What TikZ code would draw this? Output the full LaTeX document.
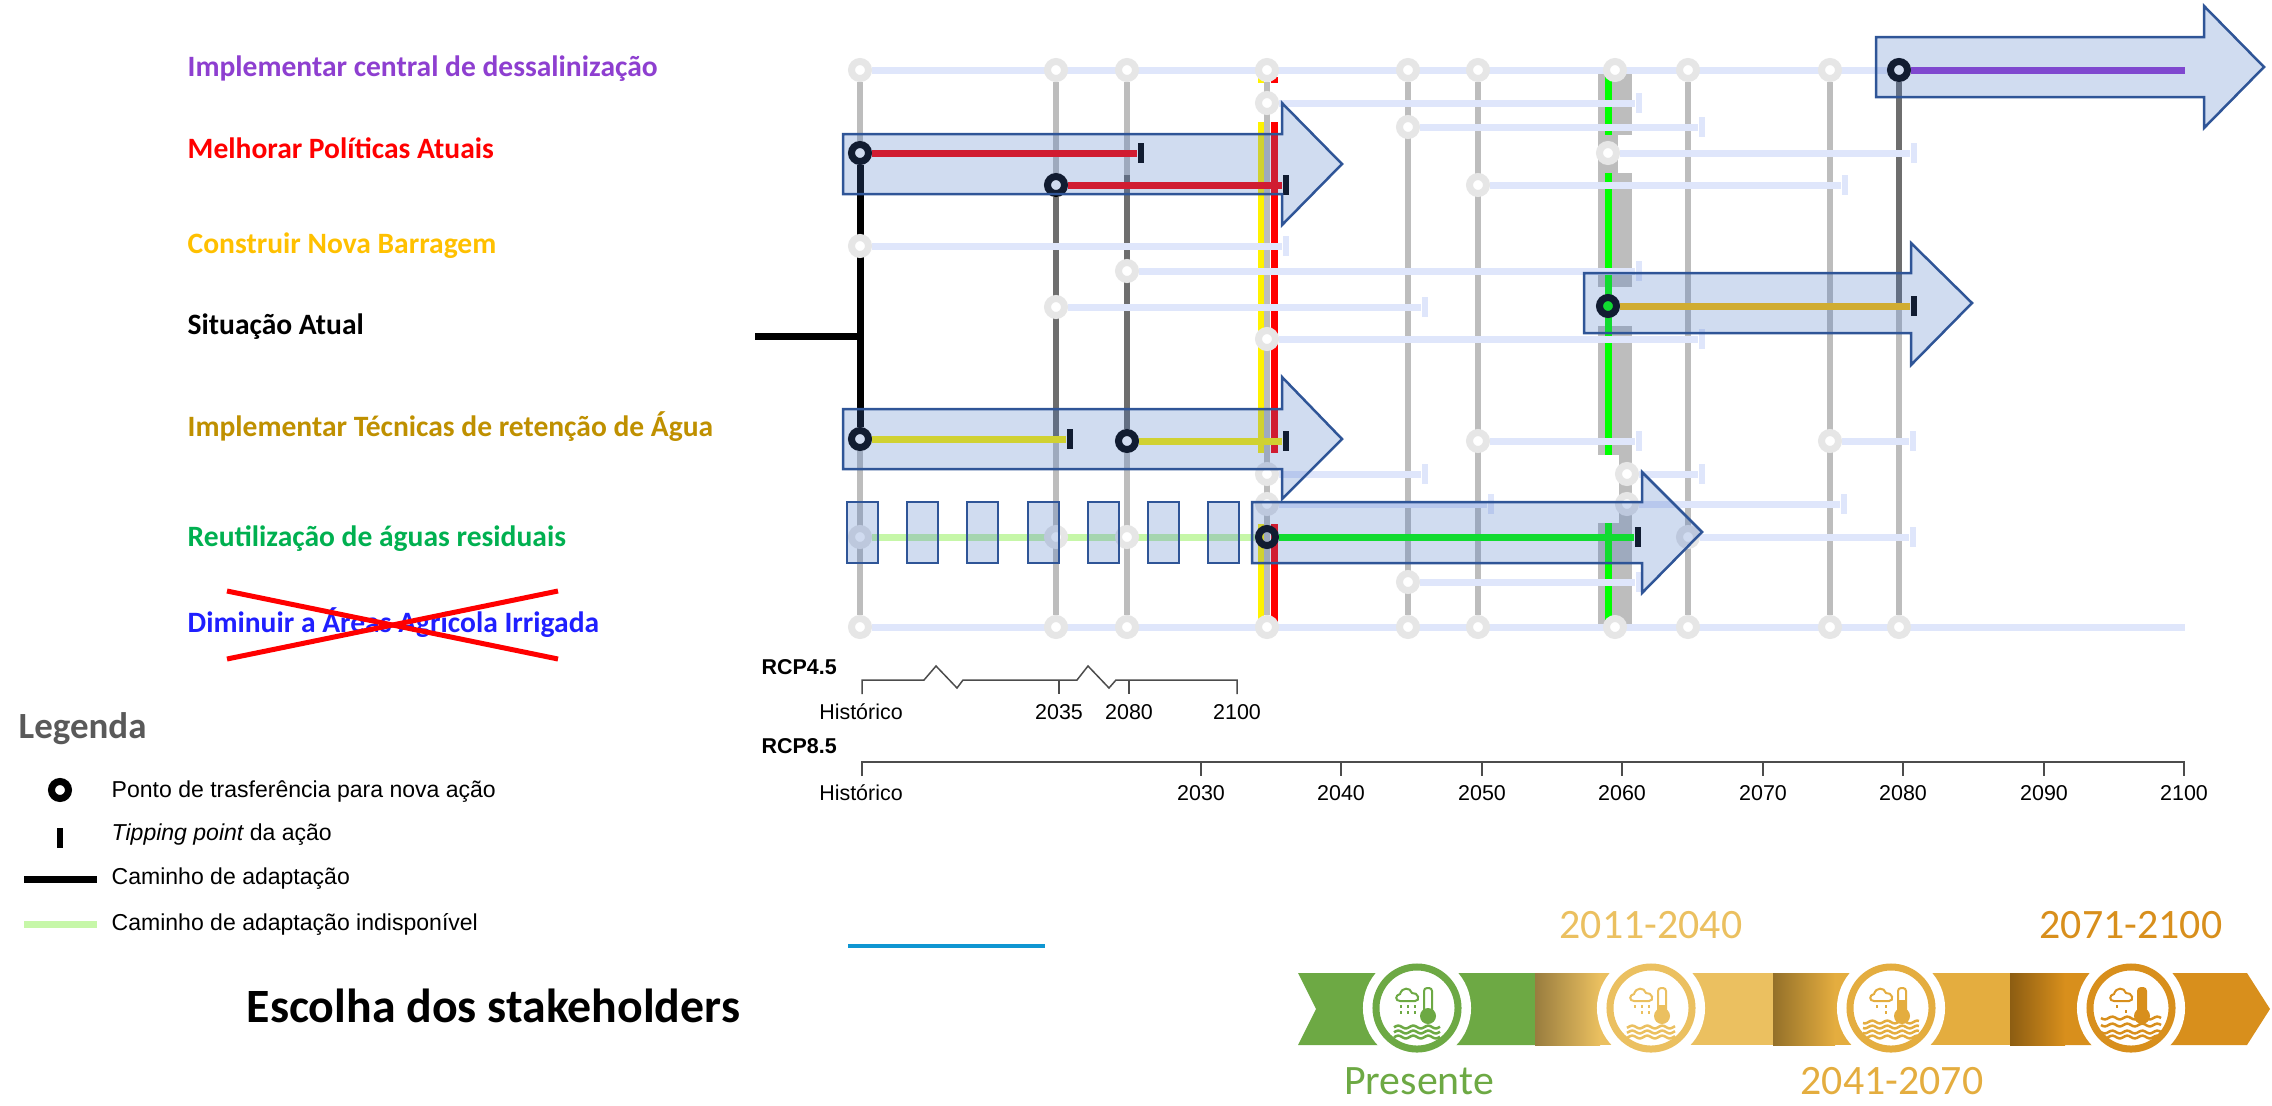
\documentclass[tikz,border=0pt]{standalone}
\usepackage{xcolor}
\usepackage{fontspec}
\setmainfont{Liberation Sans}
\newfontfamily\labelfont{Carlito}
\usetikzlibrary{backgrounds}

\definecolor{offgray}{HTML}{E6E6E6}
\definecolor{offblue}{HTML}{DFE6FB}
\definecolor{linegray}{HTML}{BDBDBD}
\definecolor{darkgray}{HTML}{6E6E6E}
\definecolor{boxblue}{HTML}{2F5597}
\definecolor{fillblue}{HTML}{4472C4}
\definecolor{unavail}{HTML}{C6F7A8}
\definecolor{ribgreen}{HTML}{6DA944}
\definecolor{ribone}{HTML}{EBC060}
\definecolor{ribtwo}{HTML}{E4AD3F}
\definecolor{ribthree}{HTML}{D88F1C}
\definecolor{actpurple}{HTML}{8E3FD0}
\definecolor{linepurple}{HTML}{943AD4}
\definecolor{actamber}{HTML}{FFC000}
\definecolor{actgold}{HTML}{BF9000}
\definecolor{actgreen}{HTML}{00B050}
\definecolor{actblue}{HTML}{1F1FFF}
\definecolor{legendgray}{HTML}{595959}
\definecolor{bluestroke}{HTML}{0F96D2}

\tikzset{
    pics/climateicon/.style n args={5}{code={
        \draw[#1, line width=0.02cm] (-17,-7) .. controls (-22,-7) and (-22,-13) .. (-17,-14)
            .. controls (-15,-21) and (-7,-21) .. (-5,-15)
            .. controls (1,-16) and (4,-7) .. (-2,-7) -- cycle;
        \foreach \rx/\ry in {#4} {
            \draw[#1, line width=0.02cm] (\rx,\ry) -- (\rx,\ry+2.5);
        }
        \draw[#1, line width=0.02cm, fill=white, rounded corners=0.03cm] (7,-20) rectangle (15,6);
        \fill[#1] (7,#5) rectangle (15,8);
        \fill[#1] (11,8) circle (0.08cm);
        \foreach \wy in {#2} {
            \draw[#1, line width=0.025cm] plot[smooth, domain=-#3:#3, samples=31, variable=\t] (\t,{\wy+1.4*sin(\t*24)});
        }
    }}
}

\begin{document}
\begin{tikzpicture}[
    x=0.01cm,
    y=-0.01cm,
    offpoint/.style={circle, draw=offgray, fill=white, line width=0.07cm, minimum size=0.17cm, inner sep=0pt},
    pathpoint/.style={offpoint, draw=black},
    offtick/.style={rectangle, fill=offblue, minimum width=0.06cm, minimum height=0.2cm, inner sep=0pt},
    pathtick/.style={offtick, fill=black},
    offline/.style={draw=offblue, line width=0.07cm},
    vline/.style={draw=linegray, line width=0.06cm},
    darkline/.style={draw=darkgray, line width=0.06cm},
    pathline/.style={draw=black, line width=0.07cm},
    actionline/.style={line width=0.07cm},
    actionbox/.style={draw=boxblue, line width=0.025cm, fill=fillblue, fill opacity=0.25},
    actionlabel/.style={anchor=west, inner sep=0pt, font=\labelfont\bfseries\fontsize{8.4}{10}\selectfont},
    axislabel/.style={font=\fontsize{6.1}{7}\selectfont},
    legendlabel/.style={anchor=west, inner sep=0pt, font=\fontsize{6.55}{8}\selectfont},
    rcplabel/.style={anchor=west, inner sep=0pt, font=\bfseries\fontsize{6.1}{7}\selectfont},
    axisline/.style={draw=black!70, line width=0.015cm},
    climatering/.style={circle, fill=white, line width=0.07cm, minimum size=0.82cm, inner sep=0pt,
        preaction={draw=white, line width=0.26cm}},
    periodlabel/.style={inner sep=0pt, text depth=0pt, font=\labelfont\fontsize{11.9}{14}\selectfont}
]
    \useasboundingbox (0,0) rectangle (2272,1105);

    % action labels
    \node[actionlabel, text=actpurple] (desal) at (187,69) {Implementar central de dessalinização};
    \node[actionlabel, text=red] (politicas) at (187,148) {Melhorar Políticas Atuais};
    \node[actionlabel, text=actamber] (barragem) at (187,246) {Construir Nova Barragem};
    \node[actionlabel, text=black] (atual) at (187,327) {Situação Atual};
    \node[actionlabel, text=actgold] (retencao) at (187,427) {Implementar Técnicas de retenção de Água};
    \node[actionlabel, text=actgreen] (reuso) at (187,539) {Reutilização de águas residuais};
    \node[actionlabel, text=actblue] (agricola) at (187,623) {Diminuir a Áreas Agrícola Irrigada};
    \coordinate (crossa) at (227,659);
    \coordinate (crossb) at (558,591);
    \coordinate (crossc) at (227,591);
    \coordinate (crossd) at (558,659);
    \draw[red, line width=0.05cm] (crossa) -- (crossb);
    \draw[red, line width=0.05cm] (crossc) -- (crossd);

    % top and bottom rows
    \node[offpoint] (t1) at (860,70) {};
    \node[offpoint] (t2) at (1056,70) {};
    \node[offpoint] (t3) at (1127,70) {};
    \node[offpoint] (t4) at (1267,70) {};
    \node[offpoint] (t5) at (1408,70) {};
    \node[offpoint] (t6) at (1478,70) {};
    \node[offpoint] (t7) at (1615,70) {};
    \node[offpoint] (t8) at (1688,70) {};
    \node[offpoint] (t9) at (1830,70) {};
    \node[pathpoint] (t10) at (1899,70) {};
    \coordinate (tend) at (2185,70);
    \node[offpoint] (b1) at (860,627) {};
    \node[offpoint] (b2) at (1056,627) {};
    \node[offpoint] (b3) at (1127,627) {};
    \node[offpoint] (b4) at (1267,627) {};
    \node[offpoint] (b5) at (1408,627) {};
    \node[offpoint] (b6) at (1478,627) {};
    \node[offpoint] (b7) at (1615,627) {};
    \node[offpoint] (b8) at (1688,627) {};
    \node[offpoint] (b9) at (1830,627) {};
    \node[offpoint] (b10) at (1899,627) {};
    \coordinate (bend) at (2185,627);

    % unused transfer points and their tipping points
    \node[offpoint] (ra) at (1267,103) {};
    \node[offtick] (raend) at (1639,103) {};
    \node[offpoint] (rb) at (1408,127) {};
    \node[offtick] (rbend) at (1702,127) {};
    \node[offpoint] (rc) at (1608,153) {};
    \node[offtick] (rcend) at (1914,153) {};
    \node[offpoint] (rd) at (1478,185) {};
    \node[offtick] (rdend) at (1845,185) {};
    \node[offpoint] (re) at (860,246) {};
    \node[offtick] (reend) at (1286,246) {};
    \node[offpoint] (rf) at (1127,271) {};
    \node[offtick] (rfend) at (1639,271) {};
    \node[offpoint] (rg) at (1056,307) {};
    \node[offtick] (rgend) at (1425,307) {};
    \node[offpoint] (rh) at (1267,339) {};
    \node[offtick] (rhend) at (1702,339) {};
    \node[offpoint] (ri) at (1478,441) {};
    \node[offtick] (riend) at (1639,441) {};
    \node[offpoint] (rj) at (1830,441) {};
    \node[offtick] (rjend) at (1913,441) {};
    \node[offpoint] (rk) at (1267,474) {};
    \node[offtick] (rkend) at (1425,474) {};
    \node[offpoint] (rl) at (1627,474) {};
    \node[offtick] (rlend) at (1702,474) {};
    \node[offpoint] (rm) at (1267,504) {};
    \node[offtick] (rmend) at (1491,504) {};
    \node[offpoint] (rn) at (1627,504) {};
    \node[offtick] (rnend) at (1844,504) {};
    \node[offpoint] (ro) at (1688,537) {};
    \node[offtick] (roend) at (1913,537) {};
    \node[offpoint] (rp) at (1408,582) {};
    \node[offtick] (rpend) at (1639,582) {};

    % unavailable row
    \node[offpoint] (ua) at (860,537) {};
    \node[offpoint] (ub) at (1056,537) {};
    \node[offpoint] (uc) at (1127,537) {};

    % taken pathway
    \coordinate (start) at (755,336);
    \coordinate (startj) at (860,336);
    \node[pathpoint] (pa) at (860,153) {};
    \node[pathtick] (paend) at (1141,153) {};
    \node[pathpoint] (pb) at (1056,185) {};
    \node[pathtick] (pbend) at (1286,185) {};
    \node[pathpoint] (pc) at (860,439) {};
    \node[pathtick] (pcend) at (1070,439) {};
    \node[pathpoint] (pd) at (1127,441) {};
    \node[pathtick] (pdend) at (1286,441) {};
    \node[pathpoint, fill=green] (pe) at (1608,306) {};
    \node[pathtick] (peend) at (1914,306) {};
    \node[pathpoint, fill=none] (pf) at (1267,537) {};
    \node[pathtick] (pfend) at (1638,537) {};
    \coordinate (dka) at (1056,439);
    \coordinate (dkb) at (1127,175);
    \coordinate (dkc) at (1899,306);

    \begin{pgfonlayer}{background}
        \draw[vline] (t1) -- (pa);
        \draw[vline] (pc) -- (b1);
        \draw[vline] (t2) -- (pb);
        \draw[vline] (dka) -- (b2);
        \draw[vline] (t3) -- (dkb);
        \draw[vline] (pd) -- (b3);
        \draw[vline] (dkc) -- (b10);
        % bands of the chosen measures
        \fill[yellow] (1258,77) rectangle (1264,83);
        \fill[yellow] (1258,122) rectangle (1264,453);
        \fill[yellow] (1258,524) rectangle (1264,622);
        \fill[red] (1271,77) rectangle (1278,83);
        \fill[red] (1271,122) rectangle (1278,453);
        \fill[red] (1271,524) rectangle (1278,622);
        \fill[linegray] (1598,74) rectangle (1632,135);
        \fill[linegray] (1598,135) rectangle (1618,173);
        \fill[linegray] (1598,173) rectangle (1632,287);
        \fill[linegray] (1598,326) rectangle (1632,455);
        \fill[linegray] (1619,455) rectangle (1632,523);
        \fill[linegray] (1598,523) rectangle (1632,624);
        \fill[green] (1605,77) rectangle (1612,135);
        \fill[green] (1605,173) rectangle (1612,455);
        \fill[green] (1605,523) rectangle (1612,620);
        \draw[vline] (t4) -- (b4);
        \draw[vline] (t5) -- (b5);
        \draw[vline] (t6) -- (b6);
        \draw[vline] (t8) -- (b8);
        \draw[vline] (t9) -- (b9);
        \draw[darkline] (pb) -- (dka);
        \draw[darkline] (dkb) -- (pd);
        \draw[darkline] (t10) -- (dkc);
        \draw[pathline] (pa) -- (pc);
        \draw[pathline] (start) -- (startj);
        \draw[offline] (t1) -- (t10);
        \draw[offline] (b1) -- (bend);
        \draw[offline] (ra) -- (raend);
        \draw[offline] (rb) -- (rbend);
        \draw[offline] (rc) -- (rcend);
        \draw[offline] (rd) -- (rdend);
        \draw[offline] (re) -- (reend);
        \draw[offline] (rf) -- (rfend);
        \draw[offline] (rg) -- (rgend);
        \draw[offline] (rh) -- (rhend);
        \draw[offline] (ri) -- (riend);
        \draw[offline] (rj) -- (rjend);
        \draw[offline] (rk) -- (rkend);
        \draw[offline] (rl) -- (rlend);
        \draw[offline] (rm) -- (rmend);
        \draw[offline] (rn) -- (rnend);
        \draw[offline] (ro) -- (roend);
        \draw[offline] (rp) -- (rpend);
        \draw[draw=unavail, line width=0.07cm] (ua) -- (pf);
    \end{pgfonlayer}

    \draw[actionline, draw=linepurple] (t10) -- (tend);
    \draw[actionline, red] (pa) -- (paend);
    \draw[actionline, red] (pb) -- (pbend);
    \draw[actionline, yellow] (pc) -- (pcend);
    \draw[actionline, yellow] (pd) -- (pdend);
    \draw[actionline, actamber] (pe) -- (peend);
    \draw[actionline, green] (pf) -- (pfend);

    % action arrows over the chart
    \draw[actionbox] (843,134) -- (1282,134) -- (1282,103) -- (1342,164) -- (1282,225) -- (1282,194) -- (843,194) -- cycle;
    \draw[actionbox] (843,409) -- (1282,409) -- (1282,377) -- (1342,439) -- (1282,499) -- (1282,469) -- (843,469) -- cycle;
    \draw[actionbox] (1252,502) -- (1642,502) -- (1642,472) -- (1702,532) -- (1642,593) -- (1642,563) -- (1252,563) -- cycle;
    \draw[actionbox] (1584,273) -- (1911,273) -- (1911,243) -- (1972,303) -- (1911,365) -- (1911,333) -- (1584,333) -- cycle;
    \draw[actionbox] (1876,37) -- (2204,37) -- (2204,6) -- (2264,67) -- (2204,128) -- (2204,97) -- (1876,97) -- cycle;
    \draw[actionbox] (847,502) rectangle (878,563);
    \draw[actionbox] (907,502) rectangle (938,563);
    \draw[actionbox] (967,502) rectangle (998,563);
    \draw[actionbox] (1028,502) rectangle (1059,563);
    \draw[actionbox] (1088,502) rectangle (1119,563);
    \draw[actionbox] (1148,502) rectangle (1179,563);
    \draw[actionbox] (1208,502) rectangle (1239,563);

    % time axes
    \node[rcplabel] (rcpa) at (761,667) {RCP4.5};
    \draw[axisline] (862,694) -- (862,680) -- (924,680) -- (936,666) -- (957,688) -- (963,680) -- (1077,680)
        -- (1088,666) -- (1109,688) -- (1116,680) -- (1237,680) -- (1237,694);
    \draw[axisline] (1059,680) -- (1059,694);
    \draw[axisline] (1129,680) -- (1129,694);
    \node[axislabel] (hista) at (861,712) {Histórico};
    \node[axislabel] (ya) at (1059,712) {2035};
    \node[axislabel] (yb) at (1129,712) {2080};
    \node[axislabel] (yc) at (1237,712) {2100};
    \node[rcplabel] (rcpb) at (761,746) {RCP8.5};
    \draw[axisline] (862,776) -- (862,762) -- (2184,762) -- (2184,776);
    \node[axislabel] (histb) at (861,793) {Histórico};
    \foreach \tx/\yr in {1201/2030,1341/2040,1482/2050,1622/2060,1763/2070,1903/2080,2044/2090,2184/2100} {
        \draw[axisline] (\tx,762) -- (\tx,776);
        \node[axislabel] (y\yr) at (\tx,793) {\yr};
    }

    % legend
    \node[anchor=west, inner sep=0pt, text=legendgray, font=\labelfont\bfseries\fontsize{10.5}{12}\selectfont] (legenda) at (18,729) {Legenda};
    \node[pathpoint] (legpoint) at (60,790) {};
    \node[legendlabel] (legpointtxt) at (111,792) {Ponto de trasferência para nova ação};
    \node[pathtick] (legtick) at (60,838) {};
    \node[legendlabel] (legticktxt) at (111,835) {{\itshape Tipping point} da ação};
    \coordinate (legla) at (24,879);
    \coordinate (leglb) at (97,879);
    \draw[pathline] (legla) -- (leglb);
    \node[legendlabel] (leglinetxt) at (111,879) {Caminho de adaptação};
    \coordinate (legua) at (24,924);
    \coordinate (legub) at (97,924);
    \draw[draw=unavail, line width=0.07cm] (legua) -- (legub);
    \node[legendlabel] (legunavtxt) at (111,924) {Caminho de adaptação indisponível};
    \node[anchor=west, inner sep=0pt, font=\labelfont\bfseries\fontsize{13.6}{16}\selectfont] (escolha) at (246,1006) {Escolha dos stakeholders};
    \coordinate (bluea) at (848,946);
    \coordinate (blueb) at (1045,946);
    \draw[draw=bluestroke, line width=0.04cm] (bluea) -- (blueb);

    % climate ribbon
    \fill[ribgreen] (1298,973) -- (1535,973) -- (1535,1045) -- (1298,1045) -- (1316,1009) -- cycle;
    \shade[left color=ribone!65!black, right color=ribone] (1535,973) rectangle (1600,1045);
    \fill[ribone] (1600,973) rectangle (1773,1045);
    \shade[left color=ribtwo!65!black, right color=ribtwo] (1773,973) rectangle (1835,1045);
    \fill[ribtwo] (1835,973) rectangle (2010,1045);
    \shade[left color=ribthree!65!black, right color=ribthree] (2010,973) rectangle (2065,1045);
    \fill[ribthree] (2065,973) -- (2247,973) -- (2270,1009) -- (2247,1045) -- (2065,1045) -- cycle;
    \node[climatering, draw=ribgreen] (presente) at (1417,1008) {};
    \node[climatering, draw=ribone] (ringa) at (1651,1008) {};
    \node[climatering, draw=ribtwo] (ringb) at (1891,1008) {};
    \node[climatering, draw=ribthree] (ringc) at (2131,1008) {};
    \pic at (presente) {climateicon={ribgreen}{19,24,29}{23}{-16/-3,-9/-3,-2/-3,-16/3,-9/3,-2/3}{1}};
    \pic at (ringa) {climateicon={ribone}{19,24,29}{24}{-16/-3,-9/-3,-2/-3,-9/3,-2/3}{-3}};
    \pic at (ringb) {climateicon={ribtwo}{14,19,24,29}{28}{-14/-3,-5/-3,-5/3}{-8}};
    \pic at (ringc) {climateicon={ribthree}{10,17,24,29}{30}{-14/-3,-5/2}{-20}};
    \node[periodlabel, text=ribgreen] (presentetxt) at (1419,1081) {Presente};
    \node[periodlabel, text=ribone] (periodoa) at (1651,925) {2011-2040};
    \node[periodlabel, text=ribtwo] (periodob) at (1892,1081) {2041-2070};
    \node[periodlabel, text=ribthree] (periodoc) at (2131,925) {2071-2100};
\end{tikzpicture}
\end{document}
